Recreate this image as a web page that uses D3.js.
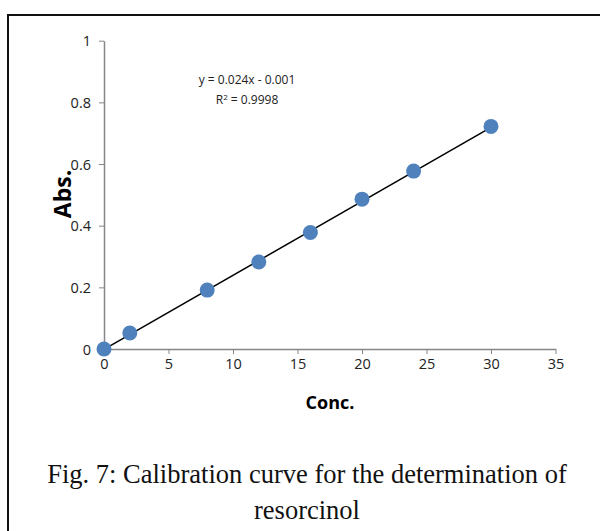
<!DOCTYPE html>
<html><head><meta charset="utf-8">
<script src="https://cdn.jsdelivr.net/npm/d3@7"></script>
<style>body{margin:0;background:#fff}svg{display:block}</style>
</head><body>
<svg id="c" width="600" height="531"></svg>
<script>
const conc = [0, 2, 8, 12, 16, 20, 24, 30];
const abs = [0, 0.052, 0.191, 0.282, 0.378, 0.486, 0.577, 0.722];
const xTicks = [0, 5, 10, 15, 20, 25, 30, 35];
const yTicks = [0, 0.2, 0.4, 0.6, 0.8, 1];
const slope = 0.024, intercept = -0.001;
const eqText = "y = 0.024x - 0.001";
const captionLines = ["Fig. 7: Calibration curve for the determination of", "resorcinol"];

const svg = d3.select("#c");
svg.append("path").attr("d","M8,600 L8,15 L620,15").attr("fill","none").attr("stroke","#111").attr("stroke-width",2);

const x = d3.scaleLinear().domain([0,35]).range([104,555.5]);
const y = d3.scaleLinear().domain([0,1]).range([349,40.7]);
const font = "'Open Sans', sans-serif";
const axisColor = "#868686";

const xa = svg.append("g").attr("transform",`translate(0,${y(0)})`)
  .call(d3.axisBottom(x).tickValues(xTicks).tickSize(5).tickSizeOuter(0).tickFormat(d3.format("d")));
const ya = svg.append("g").attr("transform",`translate(${x(0)},0)`)
  .call(d3.axisLeft(y).tickValues(yTicks).tickSize(5).tickSizeOuter(0).tickFormat(d=>d===0||d===1?String(d):d3.format(".1f")(d)));
[xa,ya].forEach(g=>{
  g.attr("font-family",font).attr("font-size",14.5);
  g.select(".domain").attr("stroke",axisColor).attr("stroke-width",1.5);
  g.selectAll(".tick line").attr("stroke",axisColor).attr("stroke-width",1);
  g.selectAll("text").attr("fill","#222");
});
xa.selectAll("text").attr("y",10).attr("dy","0.71em");
ya.selectAll("text").attr("x",-13).attr("dy","0.35em");

svg.append("line").attr("x1",x(0)).attr("y1",y(intercept)).attr("x2",x(30)).attr("y2",y(slope*30+intercept))
  .attr("stroke","#000").attr("stroke-width",1.5);

svg.selectAll("circle.p").data(conc).enter().append("circle").attr("class","p")
  .attr("cx",d=>x(d)).attr("cy",(d,i)=>y(abs[i])).attr("r",7.5).attr("fill","#4f81bd");

svg.append("text").attr("x",247).attr("y",84).attr("text-anchor","middle")
  .attr("font-family",font).attr("font-size",12).attr("fill","#222").text(eqText);
const r2 = svg.append("text").attr("x",247).attr("y",104).attr("text-anchor","middle")
  .attr("font-family",font).attr("font-size",12).attr("fill","#222");
r2.append("tspan").text("R");
r2.append("tspan").attr("dy",-4).attr("font-size",8).text("2");
r2.append("tspan").attr("dy",4).text(" = 0.9998");

svg.append("text").attr("transform","translate(71,194) rotate(-90)").attr("text-anchor","middle")
  .attr("font-family",font).attr("font-size",23).attr("font-weight","bold").attr("fill","#000").text("Abs.");
svg.append("text").attr("x",330).attr("y",409).attr("text-anchor","middle")
  .attr("font-family",font).attr("font-size",18).attr("font-weight","bold").attr("fill","#000").text("Conc.");

captionLines.forEach((t,i)=>{
  svg.append("text").attr("x",307).attr("y",483+i*36).attr("text-anchor","middle")
    .attr("font-family","'Liberation Serif', serif").attr("font-size",26.5).attr("fill","#111").text(t);
});
</script>
</body></html>
